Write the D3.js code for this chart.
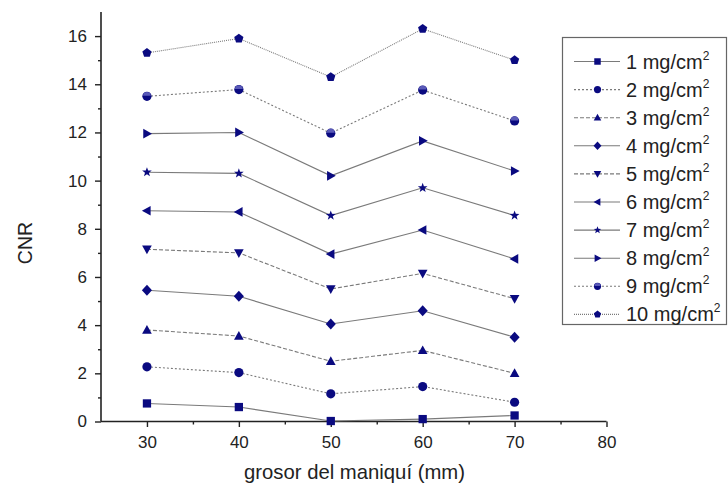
<!DOCTYPE html>
<html><head><meta charset="utf-8">
<script src="https://d3js.org/d3.v7.min.js"></script>
<style>body{margin:0;background:#fff}svg{display:block}text{font-family:"Liberation Sans",Arial,sans-serif;fill:#222}</style>
</head><body><svg id="c" width="728" height="492"></svg>
<script>
const thickness = [30, 40, 50, 60, 70];
const seriesNames = ["1","2","3","4","5","6","7","8","9","10"];
const s1  = [0.75, 0.6, 0.02, 0.1, 0.25];
const s2  = [2.27, 2.03, 1.15, 1.45, 0.8];
const s3  = [3.8, 3.55, 2.5, 2.95, 2.0];
const s4  = [5.45, 5.2, 4.05, 4.6, 3.5];
const s5  = [7.15, 7.0, 5.5, 6.15, 5.1];
const s6  = [8.75, 8.7, 6.95, 7.95, 6.75];
const s7  = [10.35, 10.3, 8.55, 9.7, 8.55];
const s8  = [11.95, 12.0, 10.2, 11.65, 10.4];
const s9  = [13.5, 13.78, 11.97, 13.76, 12.48];
const s10 = [15.3, 15.9, 14.3, 16.3, 15.0];
const xTicks = [30, 40, 50, 60, 70, 80];
const yTicks = [0, 2, 4, 6, 8, 10, 12, 14, 16];
const xLabel = "grosor del maniquí (mm)";
const yLabel = "CNR";

const allSeries = [s1,s2,s3,s4,s5,s6,s7,s8,s9,s10];
const dashes = [null, "2,2", "4,2", null, "4,2", null, null, null, "2,2", "1,1"];
const symbols = ["square","circle","up","diamond","down","left","star","right","half","pentagon"];
const navy = "#0a0a80";
const lineCol = "#7a7a7a";

const svg = d3.select("#c");
const x = d3.scaleLinear().domain([25, 80]).range([101, 606.5]);
const y = d3.scaleLinear().domain([0, 17]).range([421.5, 12]);

// axes
const xAxis = d3.axisBottom(x).tickValues(xTicks).tickSize(5.5).tickPadding(9).tickFormat(d3.format("d"));
const gx = svg.append("g").attr("transform", `translate(0,${y(0)})`).call(xAxis);
const gxMinor = svg.append("g").attr("transform", `translate(0,${y(0)})`)
  .call(d3.axisBottom(x).tickValues([35,45,55,65,75]).tickSize(3).tickFormat(""));
gxMinor.select(".domain").remove();
const yAxis = d3.axisLeft(y).tickValues(yTicks).tickSize(6).tickPadding(8).tickFormat(d3.format("d"));
const gy = svg.append("g").attr("transform", `translate(${x(25)},0)`).call(yAxis);
const gyMinor = svg.append("g").attr("transform", `translate(${x(25)},0)`)
  .call(d3.axisLeft(y).tickValues([1,3,5,7,9,11,13,15]).tickSize(3).tickFormat(""));
gyMinor.select(".domain").remove();
[gx, gy, gxMinor, gyMinor].forEach(g => {
  g.selectAll("path.domain").attr("stroke", "#222").attr("stroke-width", 1.6);
  g.selectAll(".tick line").attr("stroke", "#222").attr("stroke-width", 1.4);
  g.selectAll(".tick text").style("font-size", "17px").attr("fill", "#222");
});
gx.select(".domain").attr("d", `M${x(25)},0H${x(80)}`);
gy.select(".domain").attr("d", `M0,${y(0)}V${y(17)}`);

svg.append("text").attr("x", 354.5).attr("y", 479).attr("text-anchor", "middle")
  .style("font-size", "20.3px").text(xLabel);
svg.append("text").attr("transform", `translate(32,243) rotate(-90)`).attr("text-anchor", "middle")
  .style("font-size", "19.5px").text(yLabel);

function drawSymbol(g, type, cx, cy, r) {
  const m = g.append("g").attr("transform", `translate(${cx},${cy})`);
  const poly = pts => m.append("polygon").attr("points", pts.map(p => p.join(",")).join(" ")).attr("fill", navy);
  switch (type) {
    case "square": m.append("rect").attr("x", -r*0.9).attr("y", -r*0.9).attr("width", r*1.8).attr("height", r*1.8).attr("fill", navy); break;
    case "circle": m.append("circle").attr("r", r).attr("fill", navy); break;
    case "up": poly([[0,-r*1.1],[r*1.05,r*0.8],[-r*1.05,r*0.8]]); break;
    case "down": poly([[0,r*1.1],[r*1.05,-r*0.8],[-r*1.05,-r*0.8]]); break;
    case "left": poly([[-r*1.1,0],[r*0.8,-r*1.05],[r*0.8,r*1.05]]); break;
    case "right": poly([[r*1.1,0],[-r*0.8,-r*1.05],[-r*0.8,r*1.05]]); break;
    case "diamond": poly([[0,-r*1.2],[r*1.1,0],[0,r*1.2],[-r*1.1,0]]); break;
    case "star": {
      const pts = [];
      for (let i = 0; i < 10; i++) {
        const a = -Math.PI/2 + i*Math.PI/5, rr = i%2 ? r*0.45 : r*1.1;
        pts.push([rr*Math.cos(a), rr*Math.sin(a)]);
      }
      poly(pts); break;
    }
    case "pentagon": {
      const pts = [];
      for (let i = 0; i < 5; i++) { const a = -Math.PI/2 + i*2*Math.PI/5; pts.push([r*1.05*Math.cos(a), r*1.05*Math.sin(a)]); }
      poly(pts); break;
    }
    case "half":
      m.append("circle").attr("r", r).attr("fill", navy);
      m.append("path").attr("d", `M${-r*0.85},${-r*0.1}A${r*0.85},${r*0.85} 0 0 1 ${r*0.85},${-r*0.1}Z`).attr("fill", "#5a5ab8");
      break;
  }
}

const line = d3.line().x((d,i) => x(thickness[i])).y(d => y(d));
allSeries.forEach((vals, k) => {
  svg.append("path").datum(vals).attr("d", line).attr("fill", "none")
    .attr("stroke", lineCol).attr("stroke-width", 1.1)
    .attr("stroke-dasharray", dashes[k]);
});
allSeries.forEach((vals, k) => {
  const g = svg.append("g");
  vals.forEach((v, i) => drawSymbol(g, symbols[k], x(thickness[i]), y(v), 4.6));
});

// legend
const lg = svg.append("g");
lg.append("rect").attr("x", 562.5).attr("y", 37.5).attr("width", 164).attr("height", 287)
  .attr("fill", "#fff").attr("stroke", "#666").attr("stroke-width", 1.2);
seriesNames.forEach((n, k) => {
  const yy = 61.5 + k*28.1;
  lg.append("line").attr("x1", 574).attr("x2", 620).attr("y1", yy).attr("y2", yy)
    .attr("stroke", lineCol).attr("stroke-width", 1.1).attr("stroke-dasharray", dashes[k]);
  drawSymbol(lg, symbols[k], 597.5, yy, 3.6);
  const t = lg.append("text").attr("x", 626).attr("y", yy + 7).style("font-size", "20px");
  t.append("tspan").text(n + " mg/cm");
  t.append("tspan").attr("dy", -9).style("font-size", "12px").text("2");
});
</script></body></html>
